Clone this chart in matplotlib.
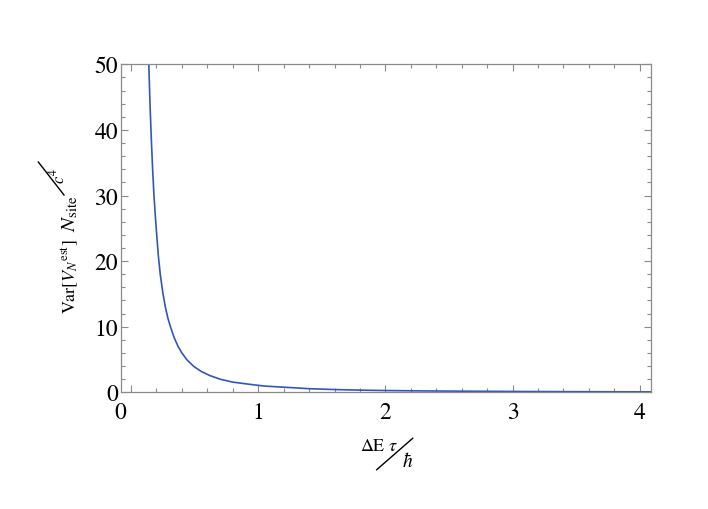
import matplotlib
matplotlib.use("Agg")
import matplotlib.pyplot as plt
from matplotlib.lines import Line2D
from matplotlib.ticker import MultipleLocator

plt.rcParams['font.family'] = ['STIXGeneral', 'DejaVu Serif']
plt.rcParams['mathtext.fontset'] = 'stix'

# values
x_vals = [0.14, 0.15, 0.16, 0.17, 0.18, 0.19, 0.20, 0.215, 0.23, 0.25, 0.27, 0.29,
          0.31, 0.34, 0.37, 0.40, 0.44, 0.49, 0.55, 0.62, 0.70, 0.80, 0.94, 1.05,
          1.20, 1.40, 1.60, 1.80, 2.00, 2.30, 2.60, 3.00, 3.40, 3.80, 4.10]
y_vals = [50.0, 43.6, 38.5, 34.0, 30.2, 27.2, 24.6, 20.8, 18.0, 15.2, 13.0, 11.3,
          10.0, 8.3, 7.0, 6.0, 4.95, 4.0, 3.2, 2.55, 2.0, 1.55, 1.2, 0.95,
          0.78, 0.55, 0.42, 0.33, 0.27, 0.21, 0.17, 0.13, 0.10, 0.08, 0.07]
x_ticks = [0, 1, 2, 3, 4]
y_ticks = [0, 10, 20, 30, 40, 50]

W, H = 708, 510


def px(x, y):
    return x / W, 1 - y / H


fig = plt.figure(figsize=(W / 100, H / 100), dpi=100)
ax = fig.add_axes([120.7 / W, 1 - 393.3 / H, 530 / W, 328 / H])

ax.plot(x_vals, y_vals, color='#3356b8', lw=1.2)

ax.set_xlim(-0.081, 4.086)
ax.set_ylim(0, 50)
ax.set_xticks(x_ticks)
ax.set_xticklabels([''] + [str(t) for t in x_ticks[1:]])
ax.set_yticks(y_ticks)
ax.xaxis.set_minor_locator(MultipleLocator(0.2))
ax.yaxis.set_minor_locator(MultipleLocator(2))

for s in ax.spines.values():
    s.set_color('#8a8a8a')
    s.set_linewidth(0.9)
ax.tick_params(which='both', direction='in', top=True, right=True, color='#8a8a8a', width=0.8)
ax.tick_params(which='major', length=5)
ax.tick_params(which='minor', length=3)
ax.tick_params(axis='x', labelsize=17, pad=7)
ax.tick_params(axis='y', labelsize=17, pad=2)

# the "0" on the x axis sits at the frame edge in the reference
fig.text(*px(120.7, 419), '0', ha='center', va='baseline', fontsize=17)

# y label: Var[V_N^est] N_site / c^4, pieces placed one by one
ylab_kw = dict(rotation=90, rotation_mode='anchor', ha='left', va='baseline')
fig.text(*px(75, 314), r'$\mathrm{Var}[V_N{}^{\mathrm{est}}]$', fontsize=13, **ylab_kw)
fig.text(*px(75, 232), r'$N_{\mathrm{site}}$', fontsize=15, **ylab_kw)
fig.add_artist(Line2D([64 / W, 38.3 / W], [1 - 196 / H, 1 - 163 / H],
                      transform=fig.transFigure, color='k', lw=1))
fig.text(*px(64.5, 184), r'$c^4$', fontsize=12, **ylab_kw)

# x label: dE tau / hbar
fig.text(*px(360, 451), r'$\Delta\mathrm{E}\ \tau$', ha='left', va='baseline', fontsize=13)
fig.add_artist(Line2D([376.7 / W, 412.7 / W], [1 - 470.7 / H, 1 - 439.3 / H],
                      transform=fig.transFigure, color='k', lw=1))
fig.text(*px(402, 467), r'$\hbar$', ha='left', va='baseline', fontsize=14)

fig.savefig('out.png', dpi=100)
